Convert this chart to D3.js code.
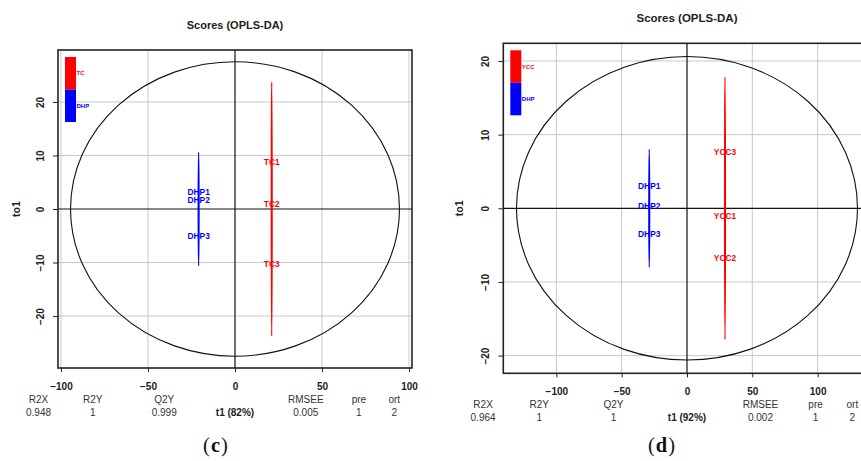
<!DOCTYPE html>
<html>
<head>
<meta charset="utf-8">
<script src="https://cdn.jsdelivr.net/npm/d3@7"></script>
<style>
body { margin: 0; background: #fff; }
svg { display: block; }
</style>
</head>
<body>
<svg id="chart" width="861" height="461"></svg>
<script>
'use strict'
// 面板 (c)：TC vs DHP
var samplesC = ["DHP1", "DHP2", "DHP3", "TC1", "TC2", "TC3"];
var t1C = [-20.9, -20.9, -20.9, 21.1, 21.1, 21.1];
var to1C = [3.2, 1.7, -5.0, 8.8, 1.0, -10.3];
var groupsC = ["TC", "DHP"];
var groupT1C = [21.1, -20.9];
var groupHalfC = [23.7, 10.6];
var hotellingC = [94.5, 27.5];
var xTicksC = [-100, -50, 0, 50, 100];
var yTicksC = [-20, -10, 0, 10, 20];
var statNamesC = ["R2X", "R2Y", "Q2Y", "RMSEE", "pre", "ort"];
var statValsC = ["0.948", "1", "0.999", "0.005", "1", "2"];
var t1LabelC = "t1 (82%)";

// 面板 (d)：YCC vs DHP
var samplesD = ["DHP1", "DHP2", "DHP3", "YCC1", "YCC2", "YCC3"];
var t1D = [-28.9, -28.9, -28.9, 29.1, 29.1, 29.1];
var to1D = [3.0, 0.3, -3.5, -1.1, -6.7, 7.6];
var groupsD = ["YCC", "DHP"];
var groupT1D = [29.1, -28.9];
var groupHalfD = [17.8, 8.0];
var hotellingD = [130.5, 20.6];
var xTicksD = [-100, -50, 0, 50, 100];
var yTicksD = [-20, -10, 0, 10, 20];
var statNamesD = ["R2X", "R2Y", "Q2Y", "RMSEE", "pre", "ort"];
var statValsD = ["0.964", "1", "1", "0.002", "1", "2"];
var t1LabelD = "t1 (92%)";

var svg = d3.select("#chart");
var fmt = d3.format("d");
// 统计量列的位置（占绘图框宽度的比例）
var statPos = [-0.055, 0.098, 0.30, 0.70, 0.85, 0.95];

function groupOf(name) {
    return name.replace(/[0-9]+$/, "");
}
function colorOf(g) {
    return g === "DHP" ? "#0000ff" : "#ff0000";
}

function drawPanel(p) {
    var g = svg.append("g");
    var x = d3.scaleLinear().domain(p.xDomain).range([p.left, p.right]);
    var y = d3.scaleLinear().domain(p.yDomain).range([p.bottom, p.top]);
    var w = p.right - p.left;

    // 标题
    g.append("text")
        .attr("x", (p.left + p.right) / 2)
        .attr("y", p.top - 21)
        .attr("text-anchor", "middle")
        .attr("font-family", "Liberation Sans, Arial, sans-serif")
        .attr("font-weight", "bold")
        .attr("font-size", p.titleSize)
        .attr("fill", "#222")
        .text("Scores (OPLS-DA)");

    // 网格
    g.append("g").selectAll("line")
        .data(p.xTicks.filter(function (d) { return d !== 0; }))
        .enter().append("line")
        .attr("x1", function (d) { return x(d); })
        .attr("x2", function (d) { return x(d); })
        .attr("y1", p.top).attr("y2", p.bottom)
        .attr("stroke", "#c8c8c8").attr("stroke-width", 1);
    g.append("g").selectAll("line")
        .data(p.yTicks.filter(function (d) { return d !== 0; }))
        .enter().append("line")
        .attr("y1", function (d) { return y(d); })
        .attr("y2", function (d) { return y(d); })
        .attr("x1", p.left).attr("x2", p.right)
        .attr("stroke", "#c8c8c8").attr("stroke-width", 1);

    // 零线
    g.append("line")
        .attr("x1", x(0)).attr("x2", x(0))
        .attr("y1", p.top).attr("y2", p.bottom)
        .attr("stroke", "#111").attr("stroke-width", 1.2);
    g.append("line")
        .attr("x1", p.left).attr("x2", p.right)
        .attr("y1", y(0)).attr("y2", y(0))
        .attr("stroke", "#111").attr("stroke-width", 1.2);

    // Hotelling 椭圆
    g.append("ellipse")
        .attr("cx", x(0)).attr("cy", y(0))
        .attr("rx", x(p.hotelling[0]) - x(0))
        .attr("ry", y(0) - y(p.hotelling[1]))
        .attr("fill", "none")
        .attr("stroke", "#111").attr("stroke-width", 1.1);

    // 各组椭圆（几乎退化成竖线）
    g.append("g").selectAll("ellipse")
        .data(p.groups)
        .enter().append("ellipse")
        .attr("cx", function (d, i) { return x(p.groupT1[i]); })
        .attr("cy", y(0))
        .attr("rx", 0.4)
        .attr("ry", function (d, i) { return y(0) - y(p.groupHalf[i]); })
        .attr("fill", "none")
        .attr("stroke", function (d) { return colorOf(d); })
        .attr("stroke-width", 1.3);

    // 样本标签
    g.append("g").selectAll("text")
        .data(p.samples)
        .enter().append("text")
        .attr("x", function (d, i) { return x(p.t1[i]); })
        .attr("y", function (d, i) { return y(p.to1[i]); })
        .attr("dy", "0.35em")
        .attr("text-anchor", "middle")
        .attr("font-family", "Liberation Sans, Arial, sans-serif")
        .attr("font-weight", "bold")
        .attr("font-size", 8.4)
        .attr("fill", function (d) { return colorOf(groupOf(d)); })
        .text(function (d) { return d; });

    // 图例
    var lx = p.left + 7, ly = p.top + 7, lh = 32.5;
    p.groups.forEach(function (grp, i) {
        g.append("rect")
            .attr("x", lx).attr("y", ly + i * lh)
            .attr("width", 11).attr("height", lh)
            .attr("fill", colorOf(grp));
        g.append("text")
            .attr("x", lx + 11.5).attr("y", ly + i * lh + lh / 2)
            .attr("dy", "0.35em")
            .attr("font-family", "Liberation Sans, Arial, sans-serif")
            .attr("font-weight", "bold")
            .attr("font-size", 6)
            .attr("fill", colorOf(grp))
            .text(grp);
    });

    // 坐标轴
    var ax = g.append("g")
        .attr("transform", "translate(0," + p.bottom + ")")
        .call(d3.axisBottom(x).tickValues(p.xTicks).tickSize(4).tickPadding(11).tickFormat(fmt));
    ax.select(".domain").remove();
    ax.selectAll("text")
        .attr("font-family", "Liberation Sans, Arial, sans-serif")
        .attr("font-weight", "bold").attr("font-size", 10).attr("fill", "#222");
    ax.selectAll("line").attr("stroke", "#222");

    var ay = g.append("g")
        .attr("transform", "translate(" + p.left + ",0)")
        .call(d3.axisLeft(y).tickValues(p.yTicks).tickSize(5).tickFormat(fmt));
    ay.select(".domain").remove();
    ay.selectAll("line").attr("stroke", "#222");
    ay.selectAll("text")
        .attr("x", null).attr("dy", null)
        .attr("text-anchor", "middle")
        .attr("transform", "translate(-14.5,0) rotate(-90)")
        .attr("font-family", "Liberation Sans, Arial, sans-serif")
        .attr("font-weight", "bold").attr("font-size", 10).attr("fill", "#222");

    g.append("text")
        .attr("transform", "translate(" + (p.left - p.yLabOff) + "," + y(0) + ") rotate(-90)")
        .attr("text-anchor", "middle")
        .attr("dy", "0.35em")
        .attr("font-family", "Liberation Sans, Arial, sans-serif")
        .attr("font-weight", "bold").attr("font-size", 10.5).attr("fill", "#222")
        .text("to1");

    // 统计量
    p.statNames.forEach(function (s, i) {
        g.append("text")
            .attr("x", p.left + statPos[i] * w).attr("y", p.bottom + 35)
            .attr("text-anchor", "middle")
            .attr("font-family", "Liberation Sans, Arial, sans-serif")
            .attr("font-size", 10).attr("fill", "#333")
            .text(s);
        g.append("text")
            .attr("x", p.left + statPos[i] * w).attr("y", p.bottom + 47.5)
            .attr("text-anchor", "middle")
            .attr("font-family", "Liberation Sans, Arial, sans-serif")
            .attr("font-size", 10).attr("fill", "#333")
            .text(p.statVals[i]);
    });
    g.append("text")
        .attr("x", p.left + 0.5 * w).attr("y", p.bottom + 47.5)
        .attr("text-anchor", "middle")
        .attr("font-family", "Liberation Sans, Arial, sans-serif")
        .attr("font-weight", "bold")
        .attr("font-size", 10).attr("fill", "#222")
        .text(p.t1Label);

    // 边框
    g.append("rect")
        .attr("x", p.left).attr("y", p.top)
        .attr("width", w).attr("height", p.bottom - p.top)
        .attr("fill", "none")
        .attr("stroke", "#222").attr("stroke-width", 1.6);

    // 图号
    var cap = g.append("text")
        .attr("x", p.capX).attr("y", 451.5)
        .attr("text-anchor", "middle")
        .attr("font-family", "Liberation Serif, Times New Roman, serif")
        .attr("font-size", 20.5).attr("letter-spacing", 1).attr("fill", "#111");
    cap.append("tspan").text("(");
    cap.append("tspan").attr("font-weight", "bold").text(p.caption);
    cap.append("tspan").text(")");
}

drawPanel({
    left: 58, right: 412, top: 50, bottom: 368,
    xDomain: [-101.7, 101.7], yDomain: [-29.7, 29.7],
    xTicks: xTicksC, yTicks: yTicksC,
    samples: samplesC, t1: t1C, to1: to1C,
    groups: groupsC, groupT1: groupT1C, groupHalf: groupHalfC,
    hotelling: hotellingC,
    statNames: statNamesC, statVals: statValsC, t1Label: t1LabelC,
    titleSize: 11, yLabOff: 42,
    caption: "c", capX: 216
});

drawPanel({
    left: 503.3, right: 870.7, top: 43.3, bottom: 373.3,
    xDomain: [-140.6, 140.6], yDomain: [-22.4, 22.4],
    xTicks: xTicksD, yTicks: yTicksD,
    samples: samplesD, t1: t1D, to1: to1D,
    groups: groupsD, groupT1: groupT1D, groupHalf: groupHalfD,
    hotelling: hotellingD,
    statNames: statNamesD, statVals: statValsD, t1Label: t1LabelD,
    titleSize: 11.5, yLabOff: 44,
    caption: "d", capX: 662
});
</script>
</body>
</html>
